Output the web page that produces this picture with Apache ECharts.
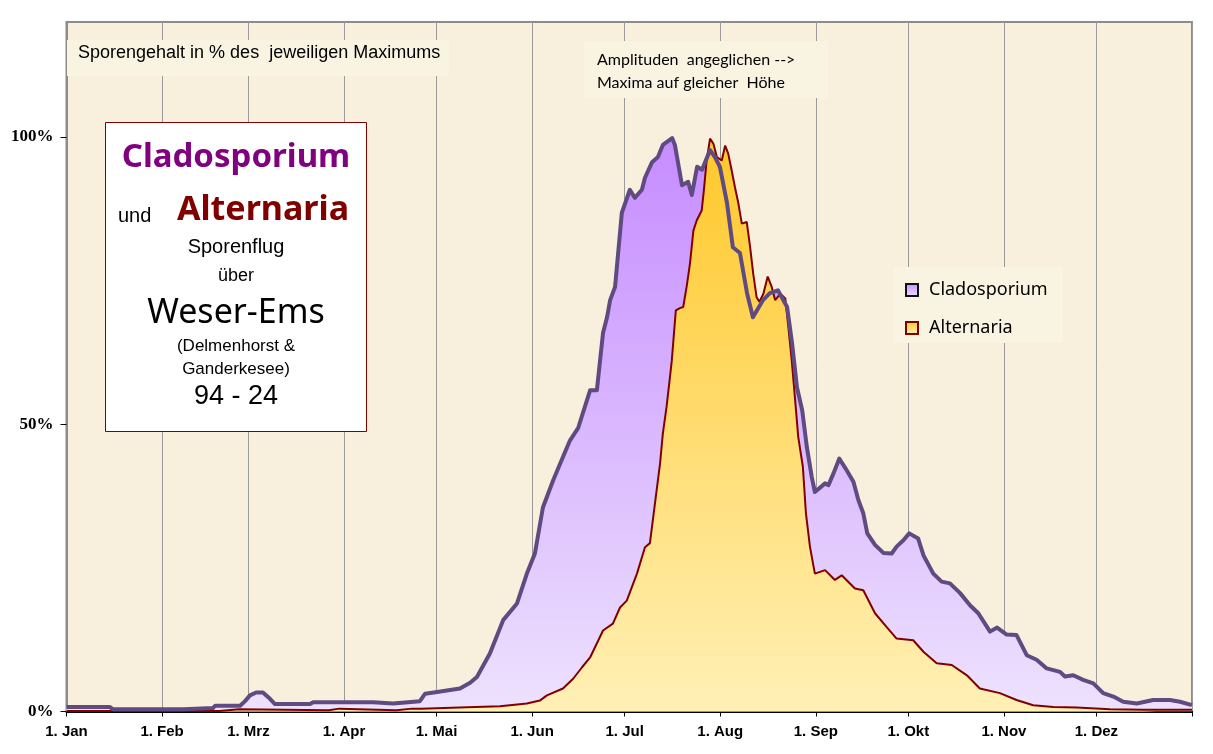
<!DOCTYPE html>
<html>
<head>
<meta charset="utf-8">
<script src="https://cdn.jsdelivr.net/npm/echarts@6/dist/echarts.min.js"></script>
<style>
html,body{margin:0;padding:0;background:#fff;}
#chart{width:1213px;height:754px;}
</style>
</head>
<body>
<div id="chart"></div>
<script>
// Month start days (day of year) and labels
const monthTicks = [0,31,59,90,120,151,181,212,243,273,304,334,365];
const monthLabels = ['1. Jan','1. Feb','1. Mrz','1. Apr','1. Mai','1. Jun','1. Jul','1. Aug','1. Sep','1. Okt','1. Nov','1. Dez'];
const yTicks = [0,50,100];

// Cladosporium: % of maximum, by day of year
const cladoDays = [0,14,15,38,38.5,47.5,48.2,56.3,57.9,59.5,61.5,63.7,66,67.6,79,80,99.4,100,105.9,106.5,114.6,116.3,120.2,127.6,130.9,133.1,137.3,141.6,146.1,149.3,151.9,154.5,157.8,161,163.3,165.9,169.8,172,174,175.3,176.3,177.9,180.1,182.7,184.3,186.6,187.6,189.9,191.8,193.4,196.4,197.3,199.6,201.6,202.8,204.5,206.1,208.7,210.3,211.9,214.2,216.1,218.4,220.7,222.6,225.9,228.1,230.7,233.7,235.3,236.9,238.6,240.1,241.7,242.7,246,247.1,248.7,250.6,253,255.2,256.8,258.4,259.7,262.2,264.9,267.6,269.2,271.4,273.3,276.2,277.9,281.1,283.8,286.5,289.8,293,295.7,299.5,301.8,304.9,308.1,311.4,314.6,317.9,322.2,323.8,326.5,329.7,333,336.2,339.5,342.7,347.1,352.4,357.9,361.1,365];
const cladoValues = [0.8,0.8,0.4,0.4,0.6,0.6,1.0,1.0,1.8,2.8,3.3,3.3,2.2,1.3,1.3,1.6,1.6,1.4,1.4,1.7,1.8,3.1,3.4,4.0,5.0,6.0,10.1,15.9,18.8,24,27.5,35.5,40.2,44.3,47.2,49.3,55.9,55.9,65.9,68.6,71.6,73.9,86.8,90.8,89.4,90.8,92.9,95.6,96.5,98.6,99.8,98.6,91.6,92.2,89.9,94.8,94.3,97.7,96.5,94.8,88.5,80.8,79.8,72.8,68.6,71.6,72.8,73.3,70.4,64.1,56.4,52.4,46.0,40.8,38.2,39.7,39.4,41.4,44.0,42,40,36.8,34.5,31,29,27.6,27.5,28.7,29.8,31,30.1,27.2,24,22.6,22.3,20.6,18.5,17.1,13.9,14.6,13.4,13.3,9.8,9.0,7.5,6.9,6.1,6.3,5.5,4.9,3.2,2.6,1.7,1.4,2.0,2.0,1.7,1.1];

// Alternaria: % of maximum, by day of year
const alterDays = [0,49.5,50,56,56.5,85,85.5,88.5,89,107,107.5,112,115,129.9,140.6,149.3,153.5,155.8,161,164.3,167.2,169.8,174,177.2,179.5,181.7,185,187.6,189.2,191.5,192.5,193.4,194.6,195.7,196.3,197.6,198.9,200,201.1,202.2,203.3,204.4,206,206.7,207.6,208.7,209.8,210.9,212.5,213.6,214.6,215.7,216.8,217.9,219,220.6,221.7,222.7,223.8,224.7,226,227.4,228.7,229.8,231.5,233.1,234.1,235.2,236.3,237.3,238.8,239.8,241.1,242.7,246,249.2,251.4,255.7,258.4,262.2,266,269.2,274.6,277.9,282.2,287.1,292,296.2,302.7,308.1,313.5,320,327.6,338.4,349.1,365];
const alterValues = [0.1,0.1,0.4,0.4,0.2,0.2,0.5,0.5,0.2,0.2,0.5,0.5,0.5,0.75,0.9,1.4,1.9,2.8,4.0,5.7,7.7,9.4,14.1,15.3,18.1,19.3,24,28.6,29.3,39,43.2,48.4,53,58.2,61.1,69.8,70.2,70.4,73.9,78,83.7,85.5,87.2,90.7,95.9,99.7,98.8,96.5,95.9,98.5,97.1,94.2,91.2,88.4,84.9,85.2,80.8,76.2,72.1,71.3,72.7,75.7,73.9,71.6,72.7,71.9,66.9,61.1,54.2,47.8,42.6,34.5,28.7,24.0,24.6,22.9,23.7,21.4,21.1,17.1,14.7,12.7,12.4,10.4,8.4,8.1,6.3,4.0,3.2,2.0,1.1,0.8,0.7,0.4,0.3,0.3];

const BG = '#f8f0dc';
const BOX = '#f9f3e2';
const cladoData = cladoDays.map((d,i)=>[d, cladoValues[i]]);
const alterData = alterDays.map((d,i)=>[d, alterValues[i]]);

const cladoGrad = new echarts.graphic.LinearGradient(0,0,0,1,[{offset:0,color:'#c68cff'},{offset:1,color:'#ede2fd'}]);
const alterGrad = new echarts.graphic.LinearGradient(0,0,0,1,[{offset:0,color:'#ffc82a'},{offset:1,color:'#fff0b6'}]);

const chart = echarts.init(document.getElementById('chart'), null, {renderer:'canvas'});

const sans = '"Liberation Sans", Arial, sans-serif';
const comic = '"Noto Sans", sans-serif';

chart.setOption({
  animation:false,
  backgroundColor:'#ffffff',
  grid:{left:66.5, right:21, top:22, bottom:42.5, show:true, backgroundColor:BG, borderColor:'#8c8c8c', borderWidth:2},
  xAxis:{
    type:'value', min:0, max:365,
    axisLine:{show:true, onZero:false, lineStyle:{color:'#000', width:2}},
    axisTick:{show:true, length:5, customValues:monthTicks, lineStyle:{color:'#000'}},
    axisLabel:{customValues:monthTicks.slice(0,12), margin:13, color:'#000', fontFamily:sans, fontWeight:'bold', fontSize:15,
      formatter:(v)=>{const i=monthTicks.indexOf(v); return i>=0 && i<12 ? monthLabels[i] : '';}},
    splitLine:{show:true, lineStyle:{color:'#9a9a9a', width:1}}
  },
  yAxis:{
    type:'value', min:0, max:120,
    axisLine:{show:true, lineStyle:{color:'#8c8c8c', width:2}},
    axisTick:{show:true, length:6, customValues:yTicks, lineStyle:{color:'#000'}},
    axisLabel:{customValues:yTicks, margin:13, color:'#000', fontFamily:'"Liberation Serif", serif', fontWeight:'bold', fontSize:17,
      formatter:(v)=>v+'%'},
    splitLine:{show:false}
  },
  legend:{
    orient:'vertical', left:900, top:276, itemWidth:12, itemHeight:12, itemGap:20,
    textStyle:{fontFamily:comic, fontSize:18, color:'#000', padding:[0,0,0,6]},
    data:[
      {name:'Cladosporium', icon:'rect', itemStyle:{color:cladoGrad, borderColor:'#111', borderWidth:2}},
      {name:'Alternaria', icon:'rect', itemStyle:{color:alterGrad, borderColor:'#800000', borderWidth:2}}
    ],
    selectedMode:false
  },
  graphic:[
    {type:'rect', z:1, shape:{x:67, y:40, width:382, height:36}, style:{fill:BOX}},
    {type:'rect', z:1, shape:{x:584, y:41, width:244, height:57}, style:{fill:BOX}},
    {type:'rect', z:1, shape:{x:893, y:267, width:170, height:76}, style:{fill:BOX}},
    {type:'text', z:10, style:{text:'Sporengehalt in % des  jeweiligen Maximums', x:78, y:53, textVerticalAlign:'middle', font:'18px '+sans, fill:'#000'}},
    {type:'text', z:10, style:{text:'Amplituden  angeglichen -->', x:597, y:60, textVerticalAlign:'middle', font:'16px Lato, sans-serif', fill:'#000'}},
    {type:'text', z:10, style:{text:'Maxima auf gleicher  Höhe', x:597, y:83, textVerticalAlign:'middle', font:'16px Lato, sans-serif', fill:'#000'}},
    {type:'rect', z:10, shape:{x:105.5, y:122.5, width:261, height:309}, style:{fill:'#ffffff', stroke:'#800000', lineWidth:1}},
    {type:'text', z:11, style:{text:'Cladosporium', x:236, y:158, textAlign:'center', textVerticalAlign:'middle', font:'bold 33px '+comic, fill:'#800080'}},
    {type:'text', z:11, style:{text:'und', x:118, y:216, textVerticalAlign:'middle', font:'20px '+sans, fill:'#000'}},
    {type:'text', z:11, style:{text:'Alternaria', x:263, y:210, textAlign:'center', textVerticalAlign:'middle', font:'bold 34px '+comic, fill:'#800000'}},
    {type:'text', z:11, style:{text:'Sporenflug', x:236, y:247, textAlign:'center', textVerticalAlign:'middle', font:'20px '+sans, fill:'#000'}},
    {type:'text', z:11, style:{text:'über', x:236, y:276, textAlign:'center', textVerticalAlign:'middle', font:'18px '+sans, fill:'#000'}},
    {type:'text', z:11, style:{text:'Weser-Ems', x:236, y:313, textAlign:'center', textVerticalAlign:'middle', font:'34px '+comic, fill:'#000'}},
    {type:'text', z:11, style:{text:'(Delmenhorst &', x:236, y:346, textAlign:'center', textVerticalAlign:'middle', font:'17px '+sans, fill:'#000'}},
    {type:'text', z:11, style:{text:'Ganderkesee)', x:236, y:369, textAlign:'center', textVerticalAlign:'middle', font:'17px '+sans, fill:'#000'}},
    {type:'text', z:11, style:{text:'94 - 24', x:236, y:397, textAlign:'center', textVerticalAlign:'middle', font:'27px '+sans, fill:'#000'}}
  ],
  series:[
    {name:'Cladosporium', type:'line', z:2, data:cladoData, showSymbol:false, symbol:'none',
      lineStyle:{width:0, opacity:0}, areaStyle:{color:cladoGrad, opacity:1}},
    {name:'Alternaria', type:'line', z:3, data:alterData, showSymbol:false, symbol:'none',
      lineStyle:{width:2, color:'#800000'}, itemStyle:{color:'#800000'}, areaStyle:{color:alterGrad, opacity:1}},
    {name:'Cladosporium', type:'line', z:4, data:cladoData, showSymbol:false, symbol:'none',
      lineStyle:{width:4, color:'#5f4a82', join:'round'}, itemStyle:{color:'#5f4a82'}}
  ]
});
</script>
</body>
</html>
